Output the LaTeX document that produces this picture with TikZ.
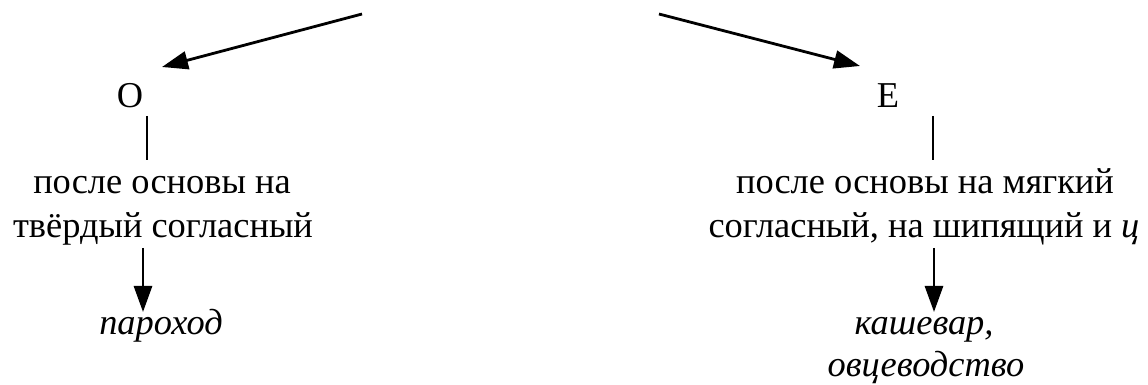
\documentclass[tikz,border=0pt]{standalone}
\usepackage{fontspec}
\setmainfont{Liberation Serif}
\usetikzlibrary{arrows.meta}
\begin{document}
\begin{tikzpicture}[x=0.5pt,y=-0.5pt,
  txt/.style={font=\fontsize{18.2}{22}\selectfont, inner sep=0pt, anchor=base},
  ex/.style={txt, font=\fontsize{18.2}{22}\selectfont\itshape},
  link/.style={line width=1.4pt},
  arr/.style={link, -{Triangle[length=13pt,width=9pt]}}]
\useasboundingbox (0,0) rectangle (1148,385);
% top arrow origins
\coordinate (topL) at (362,14);
\coordinate (topR) at (659,14);
% letters
\node[txt] (O) at (130,108) {О};
\node[txt] (E) at (888,108) {Е};
% left branch
\node[txt] (L1) at (162,194) {после основы на};
\node[txt] (L2) at (163,238) {твёрдый согласный};
\node[ex] (L3) at (161,335) {пароход};
% right branch
\node[txt] (R1) at (925,194) {после основы на мягкий};
\node[txt] (R2) at (924,238) {согласный, на шипящий и \textit{ц}};
\node[ex] (R3) at (924,335) {кашевар,};
\node[ex] (R4) at (926,377) {овцеводство};
% connector endpoints
\coordinate (tipL) at (162,67);
\coordinate (tipR) at (860,66);
\coordinate (aL1) at (147,116);
\coordinate (aL2) at (147,160);
\coordinate (bL1) at (143,248);
\coordinate (bL2) at (143,312);
\coordinate (aR1) at (933,116);
\coordinate (aR2) at (933,160);
\coordinate (bR1) at (934,248);
\coordinate (bR2) at (934,312);
\draw[arr] (topL) -- (tipL);
\draw[arr] (topR) -- (tipR);
\draw[link] (aL1) -- (aL2);
\draw[arr] (bL1) -- (bL2);
\draw[link] (aR1) -- (aR2);
\draw[arr] (bR1) -- (bR2);
\end{tikzpicture}
\end{document}
